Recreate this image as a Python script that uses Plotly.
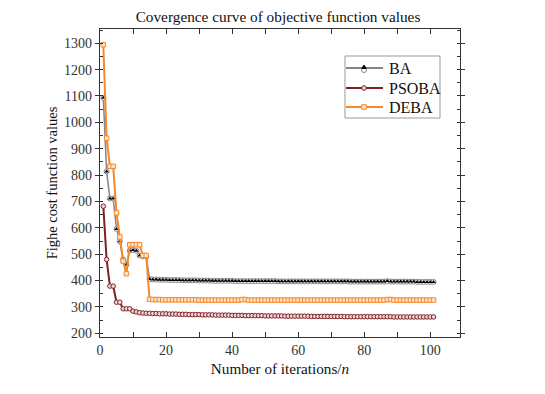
import plotly.graph_objects as go

iterations = list(range(1, 102))

ba_values = [1093, 814, 711, 711, 596, 549, 480, 461, 514, 516, 513, 495, 492, 491, 406,
             404, 404, 403, 403, 403, 402, 402, 402, 402, 401, 401, 401, 401, 401, 400,
             400, 400, 400, 399, 399, 399, 399, 399, 399, 399, 398, 398, 398, 398, 398, 398, 398, 398, 398, 398,
             398, 398, 398, 397, 397, 397, 397, 397, 397, 397, 397, 397, 397, 397, 397, 397, 397, 397, 397, 397,
             397, 397, 397, 397, 397, 396, 396, 396, 396, 396, 396, 396, 396, 396, 396, 396, 398, 396, 396, 396,
             396, 396, 396, 396, 396, 395, 395, 395, 395, 395, 395]

psoba_values = [682, 480, 379, 379, 318, 318, 293, 293, 293, 284, 281, 278, 277, 276, 276,
                275, 275, 274, 274, 274, 273, 273, 273, 272, 272, 272, 271, 271, 271, 271,
                270, 270, 270, 270, 269, 269, 269, 269, 269, 268, 268, 268, 268, 267, 267, 267, 267, 267, 267, 266,
                266, 266, 266, 266, 266, 265, 265, 265, 265, 265, 265, 265, 265, 264, 264, 264, 264, 264, 264, 264,
                264, 264, 264, 263, 263, 263, 263, 263, 263, 263, 263, 263, 263, 263, 263, 263, 263, 263, 262, 262,
                262, 262, 262, 262, 262, 262, 262, 262, 262, 262, 262]

deba_values = [1294, 940, 833, 833, 657, 565, 474, 426, 536, 536, 536, 536, 495, 495, 329,
               328, 328, 328, 327, 327, 327, 327, 327, 327, 327, 327, 327, 327, 327, 326,
               326, 326, 326, 326, 326, 326, 326, 326, 326, 326, 326, 326, 328, 328, 326, 326, 326, 326, 326, 326,
               326, 326, 326, 326, 326, 326, 326, 326, 326, 326, 326, 326, 326, 326, 326, 326, 326, 326, 326, 326,
               326, 326, 326, 326, 326, 326, 326, 326, 326, 326, 326, 326, 326, 326, 326, 326, 328, 328, 326, 326,
               326, 326, 326, 326, 326, 326, 326, 326, 326, 326, 326]

series_names = ["BA", "PSOBA", "DEBA"]

SERIF = "Times New Roman, Liberation Serif, serif"
BA_LINE = "#858585"
PSO_COLOR = "#7b2227"
DE_COLOR = "#f5892a"

# The page body has an 8px margin; the figure is sized to fit the window.
OFF = 8
FIG_W, FIG_H = 545 - OFF, 394 - OFF
PLOT_L, PLOT_R, PLOT_T, PLOT_B = 100, 460, 29, 337  # absolute page pixels


def px(xa):
    return (xa - PLOT_L) / (PLOT_R - PLOT_L)


def py(ya):
    return (PLOT_B - ya) / (PLOT_B - PLOT_T)


fig = go.Figure()

fig.add_trace(go.Scatter(
    x=iterations, y=ba_values, mode="lines+markers", showlegend=False,
    line=dict(color=BA_LINE, width=1.5),
    marker=dict(symbol="circle", size=5, color="white", line=dict(color=BA_LINE, width=1)),
    hoverinfo="skip"))
fig.add_trace(go.Scatter(
    x=iterations, y=ba_values, mode="markers", name=series_names[0], showlegend=False,
    marker=dict(symbol="triangle-up", size=4, color="black")))
fig.add_trace(go.Scatter(
    x=iterations, y=psoba_values, mode="lines+markers", name=series_names[1], showlegend=False,
    line=dict(color=PSO_COLOR, width=2),
    marker=dict(symbol="circle", size=4.5, color="#f3d6d6", line=dict(color=PSO_COLOR, width=1))))
fig.add_trace(go.Scatter(
    x=iterations, y=deba_values, mode="lines+markers", name=series_names[2], showlegend=False,
    line=dict(color=DE_COLOR, width=2),
    marker=dict(symbol="square", size=4.5, color="#fde3c8", line=dict(color=DE_COLOR, width=1))))

# Manual legend (box, sample lines, marker glyphs, labels)
shapes = [dict(type="rect", xref="paper", yref="paper",
               x0=px(345), x1=px(440), y0=py(118), y1=py(56),
               line=dict(color="#999999", width=1), fillcolor="white", layer="above")]
annotations = []
rows = [68, 88, 107]
row_colors = [BA_LINE, PSO_COLOR, DE_COLOR]
for name, ya, col in zip(series_names, rows, row_colors):
    shapes.append(dict(type="line", xref="paper", yref="paper",
                       x0=px(346), x1=px(383), y0=py(ya), y1=py(ya),
                       line=dict(color=col, width=2), layer="above"))
    annotations.append(dict(text=name, xref="paper", yref="paper",
                            x=px(387), y=py(ya), xanchor="left", yanchor="middle",
                            showarrow=False, font=dict(family=SERIF, size=16, color="#111111")))
mx = 364
shapes.append(dict(type="circle", xref="paper", yref="paper",
                   x0=px(mx - 2.5), x1=px(mx + 2.5), y0=py(rows[0] + 4.5), y1=py(rows[0] - 0.5),
                   line=dict(color=BA_LINE, width=1), fillcolor="white", layer="above"))
shapes.append(dict(type="path", xref="paper", yref="paper",
                   path="M {} {} L {} {} L {} {} Z".format(px(mx - 2.2), py(rows[0] + 0.5),
                                                          px(mx + 2.2), py(rows[0] + 0.5),
                                                          px(mx), py(rows[0] - 3)),
                   line=dict(color="black", width=1), fillcolor="black", layer="above"))
shapes.append(dict(type="circle", xref="paper", yref="paper",
                   x0=px(mx - 2.3), x1=px(mx + 2.3), y0=py(rows[1] + 2.3), y1=py(rows[1] - 2.3),
                   line=dict(color=PSO_COLOR, width=1), fillcolor="#f3d6d6", layer="above"))
shapes.append(dict(type="rect", xref="paper", yref="paper",
                   x0=px(mx - 2.3), x1=px(mx + 2.3), y0=py(rows[2] + 2.3), y1=py(rows[2] - 2.3),
                   line=dict(color=DE_COLOR, width=1), fillcolor="#fde3c8", layer="above"))

fig.update_layout(
    width=FIG_W, height=FIG_H,
    margin=dict(l=PLOT_L - OFF, r=545 - PLOT_R, t=PLOT_T - OFF, b=394 - PLOT_B),
    paper_bgcolor="white", plot_bgcolor="white",
    font=dict(family=SERIF, size=14, color="#333333"),
    title=dict(text="Covergence curve of objective function values",
               x=(278 - OFF) / FIG_W, xref="container", xanchor="center",
               y=1 - (17 - OFF) / FIG_H, yanchor="middle",
               font=dict(family=SERIF, size=15.3, color="#111111")),
    showlegend=False,
    shapes=shapes,
    annotations=annotations,
)

fig.update_xaxes(
    range=[0, 109], tickmode="linear", tick0=0, dtick=20,
    ticks="inside", ticklen=5, tickcolor="#333333",
    minor=dict(dtick=10, ticks="inside", ticklen=5, tickcolor="#333333"),
    showline=True, linecolor="#333333", linewidth=1.2, mirror="ticks",
    showgrid=False, zeroline=False,
    tickfont=dict(family=SERIF, size=14, color="#333333"),
    title=dict(text="Number of iterations/<i>n</i>", standoff=6,
               font=dict(family=SERIF, size=15.2, color="#111111")))

fig.update_yaxes(
    range=[186, 1354], tickmode="linear", tick0=200, dtick=100,
    ticks="outside", ticklen=4, tickcolor="#333333",
    minor=dict(dtick=50, tick0=200, ticks="inside", ticklen=3, tickcolor="#333333"),
    showline=True, linecolor="#333333", linewidth=1.2, mirror="ticks",
    showgrid=False, zeroline=False,
    tickfont=dict(family=SERIF, size=14, color="#333333"),
    title=dict(text="Fighe cost function values", standoff=3,
               font=dict(family=SERIF, size=14.5, color="#111111")))

fig.write_html("out.html")
